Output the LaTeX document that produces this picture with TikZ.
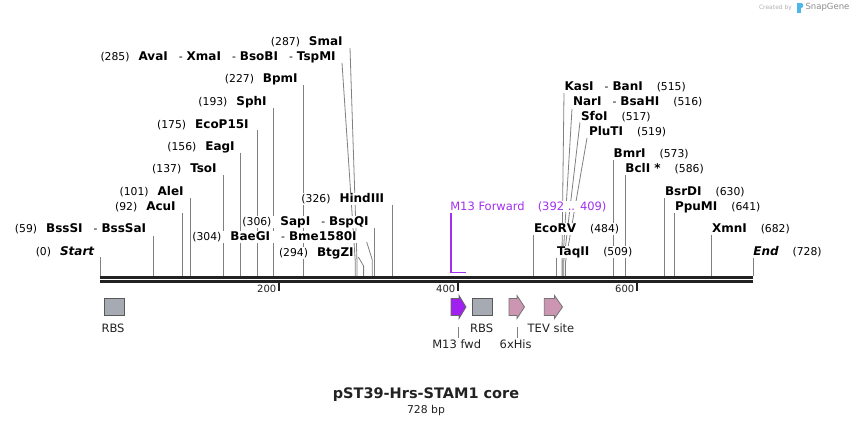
\documentclass[tikz,border=0pt]{standalone}
\usepackage{fontspec}
\setmainfont{DejaVu Sans}
\definecolor{primer}{RGB}{163,48,240}
\definecolor{m13fill}{RGB}{160,32,240}
\definecolor{pinkfill}{RGB}{204,150,178}
\definecolor{rbsgray}{RGB}{166,171,179}
\definecolor{cutgray}{RGB}{128,128,128}
\definecolor{bbone}{RGB}{34,34,34}
\definecolor{logoblue}{RGB}{77,184,232}
\newcommand\enzN[1]{{\fontsize{10.8}{13}\selectfont #1}}
\newcommand\enzB[1]{{\fontsize{12}{14}\selectfont\bfseries #1}}
\newcommand\enzSep{\hspace{11pt}\enzN{-}\hspace{4pt}}
\newcommand\vcut[3]{\coordinate (#1-t) at (#2,#3); \coordinate (#1-b) at (#2,276); \draw[cut] (#1-t) -- (#1-b);}
\newcommand\kcut[5]{\coordinate (#1-t) at (#2,#3); \coordinate (#1-k) at (#4,#5); \coordinate (#1-b) at (#4,276); \draw[cut] (#1-t) -- (#1-k) -- (#1-b);}
\begin{document}
\begin{tikzpicture}[x=1pt,y=-1pt,
  cut/.style={draw=cutgray, line width=0.8pt},
  lbl/.style={inner sep=0.6pt, fill=white, text=black},
  lleft/.style={lbl, anchor=east},
  lright/.style={lbl, anchor=west},
  bbline/.style={draw=bbone, line width=3pt},
  tickmark/.style={draw=bbone, line width=2pt},
  ticklbl/.style={inner sep=0, anchor=east, font=\fontsize{10}{12}\selectfont, text=bbone},
  feat/.style={inner sep=0, font=\fontsize{11.5}{13}\selectfont, text=bbone},
  rbsbox/.style={draw=black!65, fill=rbsgray, line width=0.8pt, minimum width=20pt, minimum height=17pt, inner sep=0},
  m13arrow/.style={draw=black!60, fill=m13fill, line width=0.8pt},
  pinkarrow/.style={draw=black!55, fill=pinkfill, line width=0.8pt},
  flbltick/.style={draw=cutgray, line width=0.8pt},
  primerline/.style={draw=primer, line width=1.4pt}
]
\useasboundingbox (0,0) rectangle (854,426);
\fill[white] (0,0) rectangle (854,426);

% watermark
\node[inner sep=0, text=black!30, font=\fontsize{6}{7}\selectfont] (wm1) at (775.5,7.5) {Created by};
\fill[logoblue] (797,2.5) rectangle (800.5,12.5);
\fill[logoblue] (800.5,2.5) .. controls (804,2.5) and (804,8) .. (800.5,8) -- cycle;
\node[inner sep=0, text=black!45, font=\fontsize{8.5}{10}\selectfont] (wm2) at (827.5,7.5) {SnapGene};

% cut lines (left)
\vcut{start}{100}{257}
\vcut{bsssi}{153}{236}
\vcut{acui}{182.7}{213}
\vcut{alei}{190.4}{198}
\vcut{tsoi}{223}{175}
\vcut{eagi}{240}{153}
\vcut{ecop}{257.5}{130}
\vcut{sphi}{273.2}{108}
\vcut{bpmi}{303.5}{85}
\kcut{tspmi}{342}{63}{355.3}{262}
\kcut{smai}{350}{48}{357}{262}
\vcut{hind}{392.3}{205}
\vcut{sapi}{374.4}{228}
\kcut{baegi}{366.7}{242}{372.3}{260}
\kcut{btgzi}{358.3}{257}{363.6}{266}
% cut lines (right)
\kcut{kasi}{564}{93}{561.9}{262}
\kcut{nari}{572}{109}{562.8}{262}
\kcut{sfoi}{580}{122}{563.7}{262}
\kcut{pluti}{587}{138}{565.5}{262}
\vcut{bmri}{613.5}{160}
\vcut{bcli}{625.3}{175}
\vcut{bsrdi}{664.8}{198}
\vcut{ppumi}{674.8}{213}
\vcut{ecorv}{533.8}{235}
\vcut{xmni}{711.7}{235}
\vcut{taqii}{556.7}{258}
\vcut{end}{753}{257}

% primer
\coordinate (pr-t) at (451,213);
\coordinate (pr-k) at (451,272.5);
\coordinate (pr-e) at (466,272.5);
\draw[primerline] (pr-t) -- (pr-k) -- (pr-e);

% backbone
\coordinate (bb1a) at (100,277.5); \coordinate (bb1b) at (753,277.5);
\coordinate (bb2a) at (100,281.5); \coordinate (bb2b) at (753,281.5);
\draw[bbline] (bb1a) -- (bb1b);
\draw[bbline] (bb2a) -- (bb2b);
% ticks
\coordinate (t200a) at (279,283); \coordinate (t200b) at (279,290.5);
\coordinate (t400a) at (458,283); \coordinate (t400b) at (458,290.5);
\coordinate (t600a) at (637,283); \coordinate (t600b) at (637,290.5);
\draw[tickmark] (t200a) -- (t200b);
\draw[tickmark] (t400a) -- (t400b);
\draw[tickmark] (t600a) -- (t600b);
\node[ticklbl] (l200) at (276.5,289) {200};
\node[ticklbl] (l400) at (455.5,289) {400};
\node[ticklbl] (l600) at (634.5,289) {600};

% left labels
\node[lleft] (lStart) at (95,252) {\enzN{(0)}\hspace{9pt}\enzB{\itshape Start}};
\node[lleft] (lBssSI) at (147,229) {\enzN{(59)}\hspace{9pt}\enzB{BssSI}\enzSep\enzB{BssSaI}};
\node[lleft] (lAcuI) at (176.5,207) {\enzN{(92)}\hspace{9pt}\enzB{AcuI}};
\node[lleft] (lAleI) at (184.5,192) {\enzN{(101)}\hspace{9pt}\enzB{AleI}};
\node[lleft] (lTsoI) at (217.5,169) {\enzN{(137)}\hspace{9pt}\enzB{TsoI}};
\node[lleft] (lEagI) at (235.5,147) {\enzN{(156)}\hspace{9pt}\enzB{EagI}};
\node[lleft] (lEcoP) at (249.5,125) {\enzN{(175)}\hspace{9pt}\enzB{EcoP15I}};
\node[lleft] (lSphI) at (267.5,102) {\enzN{(193)}\hspace{9pt}\enzB{SphI}};
\node[lleft] (lBpmI) at (298.5,79) {\enzN{(227)}\hspace{9pt}\enzB{BpmI}};
\node[lleft] (lAvaI) at (336.5,57) {\enzN{(285)}\hspace{9pt}\enzB{AvaI}\enzSep\enzB{XmaI}\enzSep\enzB{BsoBI}\enzSep\enzB{TspMI}};
\node[lleft] (lSmaI) at (343.5,42) {\enzN{(287)}\hspace{9pt}\enzB{SmaI}};
\node[lleft] (lHind) at (385,199) {\enzN{(326)}\hspace{9pt}\enzB{HindIII}};
\node[lleft] (lSapI) at (369.5,222) {\enzN{(306)}\hspace{9pt}\enzB{SapI}\enzSep\enzB{BspQI}};
\node[lleft] (lBaeGI) at (357.5,237) {\enzN{(304)}\hspace{9pt}\enzB{BaeGI}\enzSep\enzB{Bme1580I}};
\node[lleft] (lBtgZI) at (354.5,253) {\enzN{(294)}\hspace{9pt}\enzB{BtgZI}};

% right labels
\node[lright] (rKasI) at (563.8,87) {\enzB{KasI}\enzSep\enzB{BanI}\hspace{14pt}\enzN{(515)}};
\node[lright] (rNarI) at (572.2,102) {\enzB{NarI}\enzSep\enzB{BsaHI}\hspace{14pt}\enzN{(516)}};
\node[lright] (rSfoI) at (580.2,117) {\enzB{SfoI}\hspace{14pt}\enzN{(517)}};
\node[lright] (rPluTI) at (588.2,132) {\enzB{PluTI}\hspace{14pt}\enzN{(519)}};
\node[lright] (rBmrI) at (612.8,154) {\enzB{BmrI}\hspace{14pt}\enzN{(573)}};
\node[lright] (rBclI) at (624.6,169) {\enzB{BclI *}\hspace{14pt}\enzN{(586)}};
\node[lright] (rBsrDI) at (664.2,192) {\enzB{BsrDI}\hspace{14pt}\enzN{(630)}};
\node[lright] (rPpuMI) at (674.2,207) {\enzB{PpuMI}\hspace{14pt}\enzN{(641)}};
\node[lright] (rEcoRV) at (533.2,229) {\enzB{EcoRV}\hspace{14pt}\enzN{(484)}};
\node[lright] (rXmnI) at (711.2,229) {\enzB{XmnI}\hspace{14pt}\enzN{(682)}};
\node[lright] (rTaqII) at (556.2,252) {\enzB{TaqII}\hspace{14pt}\enzN{(509)}};
\node[lright] (rEnd) at (752.5,252) {\enzB{\itshape End}\hspace{14pt}\enzN{(728)}};

% primer label
\node[lright, text=primer, font=\fontsize{11.5}{13}\selectfont] (prl) at (449.5,206.5) {M13 Forward\hspace{13pt}(392 .. 409)};

% features
\node[rbsbox] (rbs1) at (114,307) {};
\node[feat] (rbs1l) at (113,328.5) {RBS};
\node[rbsbox] (rbs2) at (482.3,307) {};
\node[feat] (rbs2l) at (481.7,328.5) {RBS};
\draw[m13arrow] (451,298.5) -- (459,298.5) -- (459,295.5) -- (466,307) -- (459,318.5) -- (459,315.5) -- (451,315.5) -- cycle;
\draw[pinkarrow] (509,298.5) -- (517,298.5) -- (517,295.5) -- (524.5,307) -- (517,318.5) -- (517,315.5) -- (509,315.5) -- cycle;
\draw[pinkarrow] (544.3,298.5) -- (554.5,298.5) -- (554.5,295.5) -- (562.5,307) -- (554.5,318.5) -- (554.5,315.5) -- (544.3,315.5) -- cycle;
\node[feat] (tevl) at (551,328.5) {TEV site};
\coordinate (m13ta) at (458.3,327); \coordinate (m13tb) at (458.3,338);
\draw[flbltick] (m13ta) -- (m13tb);
\node[feat] (m13l) at (456.7,344.5) {M13 fwd};
\coordinate (hista) at (517.3,327); \coordinate (histb) at (517.3,338);
\draw[flbltick] (hista) -- (histb);
\node[feat] (hisl) at (515.7,344.5) {6xHis};

% title
\node[inner sep=0, font=\fontsize{14.5}{17}\selectfont\bfseries, text=bbone] (title) at (426,395) {pST39-Hrs-STAM1 core};
\node[inner sep=0, font=\fontsize{10.8}{13}\selectfont, text=bbone] (bp) at (426,410.5) {728 bp};
\end{tikzpicture}
\end{document}
